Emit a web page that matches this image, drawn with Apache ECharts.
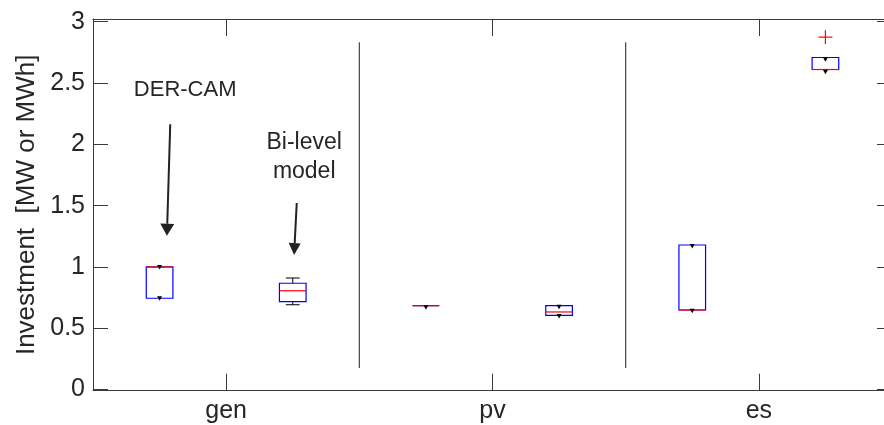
<!DOCTYPE html>
<html><head><meta charset="utf-8">
<script src="https://cdn.jsdelivr.net/npm/echarts@6/dist/echarts.min.js"></script>
<style>html,body{margin:0;padding:0;background:#fff}#c{width:884px;height:425px}</style>
</head><body><div id="c"></div>
<script>
// ---- data ----
const categories = ['gen', 'pv', 'es'];
const yTicks = [0, 0.5, 1, 1.5, 2, 2.5, 3];
const yName = 'Investment  [MW or MWh]';
// boxes: [min, Q1, median, Q3, max] per category
const derCamBoxes = [
  [0.745, 0.745, 1.0, 1.0, 1.0],
  [0.684, 0.684, 0.684, 0.684, 0.684],
  [0.649, 0.649, 0.649, 1.179, 1.179]
];
const biLevelBoxes = [
  [0.692, 0.717, 0.806, 0.867, 0.91],
  [0.606, 0.606, 0.633, 0.684, 0.684],
  [2.61, 2.61, 2.61, 2.708, 2.708]
];
const derCamPoints = [[1.0, 0.745], [0.671], [1.171, 0.643]];
const biLevelPoints = [[], [0.676, 0.600], [2.693, 2.592]];
const derCamOutliers = [[], [], []];
const biLevelOutliers = [[], [], [2.874]];
const separatorAfter = [0, 1];
const separatorRange = [0.176, 2.833];
const annotationTexts = ['DER-CAM', 'Bi-level', 'model'];

// ---- layout / style (not data) ----
const groupOffset = [-0.25, 0.25];     // box position within band (fraction of band)
const annot = {
  arrows: [
    { cat: 0, x0: -0.21, y0: 2.164, x1: -0.2225, y1: 1.255, headLen: 12, headHalf: 7 },
    { cat: 0, x0: 0.265, y0: 1.521, x1: 0.255, y1: 1.097, headLen: 12, headHalf: 6 }
  ],
  texts: [
    { cat: 0, x: -0.154, y: 2.443, size: 22 },
    { cat: 0, x: 0.293, y: 2.011, size: 23 },
    { cat: 0, x: 0.293, y: 1.774, size: 23 }
  ]
};
const FONT = '"Liberation Sans", Arial, sans-serif';
const TXT = '#262626';
const AX = '#3a3a3a';

const boxData = [];
const pointData = [];
const outlierData = [];
[derCamBoxes, biLevelBoxes].forEach((arr, g) => {
  arr.forEach((b, c) => boxData.push([c, g].concat(b)));
});
[derCamPoints, biLevelPoints].forEach((arr, g) => {
  arr.forEach((ps, c) => ps.forEach(v => pointData.push([c, g, v])));
});
[derCamOutliers, biLevelOutliers].forEach((arr, g) => {
  arr.forEach((ps, c) => ps.forEach(v => outlierData.push([c, g, v])));
});

function bandX(api, cat, frac) {
  const band = api.size([1, 0])[0];
  return api.coord([cat, 0])[0] + frac * band;
}

function renderBox(params, api) {
  const cat = api.value(0), g = api.value(1);
  const band = api.size([1, 0])[0];
  const cx = bandX(api, cat, groupOffset[g]);
  const hw = band * 0.05;
  const cw = band * 0.026;
  const Y = i => api.coord([cat, api.value(i)])[1];
  const yMin = Y(2), yQ1 = Y(3), yMed = Y(4), yQ3 = Y(5), yMax = Y(6);
  const ch = [];
  const blk = { stroke: '#000', lineWidth: 1 };
  if (yMax < yQ3 - 0.5) {
    ch.push({ type: 'line', shape: { x1: cx, y1: yQ3, x2: cx, y2: yMax }, style: blk });
    ch.push({ type: 'line', shape: { x1: cx - cw, y1: yMax, x2: cx + cw, y2: yMax }, style: blk });
  }
  if (yMin > yQ1 + 0.5) {
    ch.push({ type: 'line', shape: { x1: cx, y1: yQ1, x2: cx, y2: yMin }, style: blk });
    ch.push({ type: 'line', shape: { x1: cx - cw, y1: yMin, x2: cx + cw, y2: yMin }, style: blk });
  }
  ch.push({ type: 'rect', shape: { x: cx - hw, y: yQ3, width: 2 * hw, height: yQ1 - yQ3 },
            style: { fill: 'none', stroke: '#0000ff', lineWidth: 1.2 } });
  ch.push({ type: 'line', shape: { x1: cx - hw, y1: yMed, x2: cx + hw, y2: yMed },
            style: { stroke: '#ff0000', lineWidth: 1.2 } });
  return { type: 'group', children: ch };
}

function renderPoint(params, api) {
  const cat = api.value(0), g = api.value(1);
  const cx = bandX(api, cat, groupOffset[g]);
  const cy = api.coord([cat, api.value(2)])[1];
  return { type: 'polygon', shape: { points: [[cx - 2.5, cy - 2], [cx + 2.5, cy - 2], [cx, cy + 2.5]] },
           style: { fill: '#000' } };
}

function renderOutlier(params, api) {
  const cat = api.value(0), g = api.value(1);
  const cx = bandX(api, cat, groupOffset[g]);
  const cy = api.coord([cat, api.value(2)])[1];
  const s = 7, st = { stroke: '#ff0000', lineWidth: 1.2 };
  return { type: 'group', children: [
    { type: 'line', shape: { x1: cx - s, y1: cy, x2: cx + s, y2: cy }, style: st },
    { type: 'line', shape: { x1: cx, y1: cy - s, x2: cx, y2: cy + s }, style: st }
  ] };
}

function renderSep(params, api) {
  const c = api.value(0);
  const x = bandX(api, c, 0.5);
  const yA = api.coord([c, separatorRange[0]])[1];
  const yB = api.coord([c, separatorRange[1]])[1];
  return { type: 'line', shape: { x1: x, y1: yA, x2: x, y2: yB }, style: { stroke: '#444', lineWidth: 1.2 } };
}

function renderAnnot(params, api) {
  const ch = [];
  annot.arrows.forEach(a => {
    const x0 = bandX(api, a.cat, a.x0), y0 = api.coord([a.cat, a.y0])[1];
    const x1 = bandX(api, a.cat, a.x1), y1 = api.coord([a.cat, a.y1])[1];
    const dx = x1 - x0, dy = y1 - y0, L = Math.hypot(dx, dy);
    const ux = dx / L, uy = dy / L;
    const bx = x1 - ux * a.headLen, by = y1 - uy * a.headLen;
    ch.push({ type: 'line', shape: { x1: x0, y1: y0, x2: bx, y2: by }, style: { stroke: '#222', lineWidth: 2 } });
    ch.push({ type: 'polygon', shape: { points: [[x1, y1], [bx - uy * a.headHalf, by + ux * a.headHalf], [bx + uy * a.headHalf, by - ux * a.headHalf]] },
              style: { fill: '#222' } });
  });
  annot.texts.forEach((t, i) => {
    ch.push({ type: 'text', x: bandX(api, t.cat, t.x), y: api.coord([t.cat, t.y])[1],
      style: { text: annotationTexts[i], fill: TXT, font: t.size + 'px ' + FONT, align: 'center', verticalAlign: 'middle' } });
  });
  return { type: 'group', children: ch };
}

const chart = echarts.init(document.getElementById('c'), null, { renderer: 'canvas' });
const catAxisBase = {
  type: 'category', data: categories, boundaryGap: true,
  axisLine: { show: true, onZero: false, lineStyle: { color: AX, width: 1 } },
  axisTick: { show: true, inside: true, alignWithLabel: true, length: 17, lineStyle: { color: AX } },
  splitLine: { show: false }
};
const valAxisBase = {
  type: 'value', min: -0.009, max: 3.022,
  axisLine: { show: true, lineStyle: { color: AX, width: 1 } },
  axisTick: { show: true, inside: true, length: 15, customValues: yTicks, lineStyle: { color: AX } },
  splitLine: { show: false }
};
chart.setOption({
  animation: false,
  grid: { left: 93, top: 19, width: 799, height: 371.7, containLabel: false, outerBoundsMode: 'none' },
  xAxis: [
    Object.assign({}, catAxisBase, { position: 'bottom',
      axisLabel: { show: true, color: TXT, fontSize: 25, fontFamily: FONT, margin: 8 } }),
    Object.assign({}, catAxisBase, { position: 'top', axisLabel: { show: false } })
  ],
  yAxis: [
    Object.assign({}, valAxisBase, { position: 'left',
      name: yName, nameLocation: 'middle', nameRotate: 90, nameGap: 52,
      nameTextStyle: { color: TXT, fontSize: 26, fontFamily: FONT },
      axisLabel: { show: true, color: TXT, fontSize: 25, fontFamily: FONT, margin: 8,
                   customValues: yTicks, formatter: v => String(v) } }),
    Object.assign({}, valAxisBase, { position: 'right', axisLabel: { show: false } })
  ],
  series: [
    { type: 'custom', name: 'separators', renderItem: renderSep, data: separatorAfter.map(c => [c]), silent: true, clip: false },
    { type: 'custom', name: 'boxes', renderItem: renderBox, data: boxData, encode: { x: 0, y: [2, 3, 4, 5, 6] } },
    { type: 'custom', name: 'points', renderItem: renderPoint, data: pointData, encode: { x: 0, y: 2 } },
    { type: 'custom', name: 'outliers', renderItem: renderOutlier, data: outlierData, encode: { x: 0, y: 2 } },
    { type: 'custom', name: 'annotations', renderItem: renderAnnot, data: [[0]], silent: true, clip: false }
  ]
});
</script></body></html>
